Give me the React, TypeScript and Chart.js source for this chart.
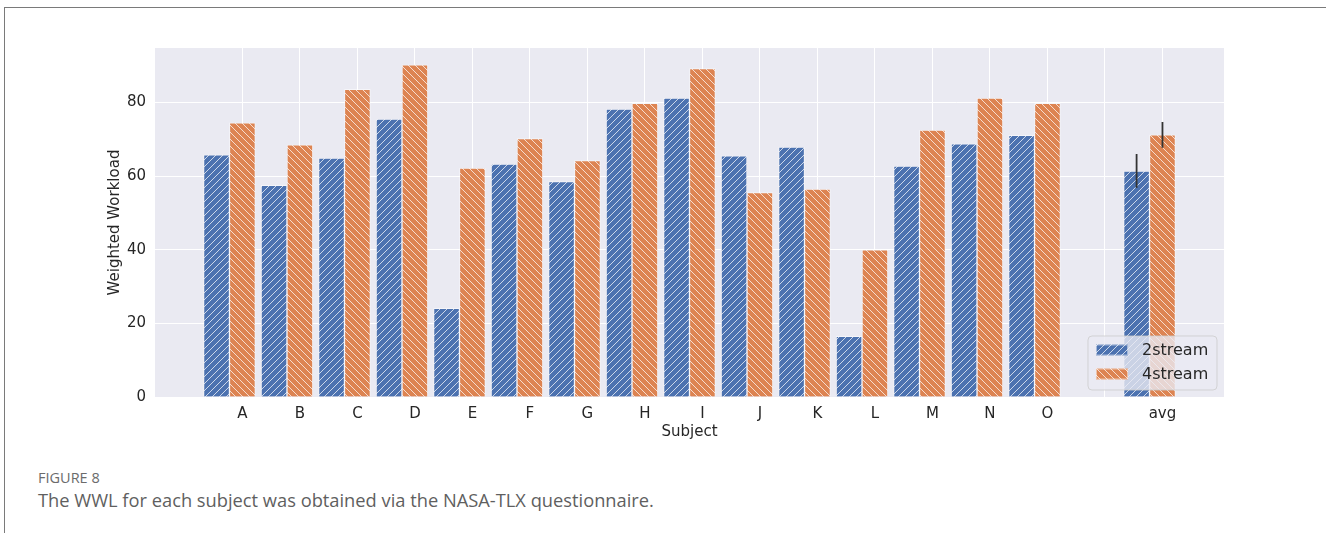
import { useEffect, useRef } from 'react';
import { Chart, registerables } from 'chart.js';

Chart.register(...registerables);

// Weighted workload per subject under the two conditions
const subjects = ['A', 'B', 'C', 'D', 'E', 'F', 'G', 'H', 'I', 'J', 'K', 'L', 'M', 'N', 'O'];
const twoStream = [65.8, 57.5, 64.9, 75.5, 24.1, 63.3, 58.5, 78.2, 81.2, 65.5, 67.9, 16.5, 62.7, 68.8, 71.1];
const fourStream = [74.5, 68.5, 83.6, 90.2, 62.2, 70.2, 64.2, 79.8, 89.2, 55.5, 56.5, 40.0, 72.5, 81.2, 79.8];

// Group averages with their error bars
const avgTwoStream = 61.4;
const avgFourStream = 71.2;
const errTwoStream = 4.6;
const errFourStream = 3.5;

const tickLabels = [...subjects, '', 'avg'];
const yTicks = [0, 20, 40, 60, 80];
const avgPosition = 16;
const barWidth = 0.45;
const xMin = -1.52;
const xMax = 17.07;
const yMax = 94.8;

const BLUE = '#4C72B0';
const ORANGE = '#DD8452';
const PLOT_BG = '#EAEAF2';
const TEXT = '#262626';
const FONT = "'DejaVu Sans', sans-serif";

function makeHatch(color: string, forward: boolean): CanvasPattern | string {
  const size = 7;
  const c = document.createElement('canvas');
  c.width = size;
  c.height = size;
  const ctx = c.getContext('2d');
  if (!ctx) return color;
  ctx.fillStyle = color;
  ctx.fillRect(0, 0, size, size);
  ctx.strokeStyle = 'rgba(255,255,255,0.8)';
  ctx.lineWidth = 0.9;
  ctx.beginPath();
  if (forward) {
    ctx.moveTo(-1, size + 1);
    ctx.lineTo(size + 1, -1);
    ctx.moveTo(-1, 1);
    ctx.lineTo(1, -1);
    ctx.moveTo(size - 1, size + 1);
    ctx.lineTo(size + 1, size - 1);
  } else {
    ctx.moveTo(-1, -1);
    ctx.lineTo(size + 1, size + 1);
    ctx.moveTo(-1, size - 1);
    ctx.lineTo(1, size + 1);
    ctx.moveTo(size - 1, -1);
    ctx.lineTo(size + 1, 1);
  }
  ctx.stroke();
  return ctx.createPattern(c, 'repeat') ?? color;
}

function series(values: number[], avg: number, offset: number) {
  return [
    ...values.map((v, i) => ({ x: i + offset, y: v })),
    { x: avgPosition + offset, y: avg },
  ];
}

const plotBackground = {
  id: 'plotBackground',
  beforeDraw(chart: any) {
    const { ctx, chartArea } = chart;
    ctx.save();
    ctx.fillStyle = PLOT_BG;
    ctx.fillRect(chartArea.left, chartArea.top, chartArea.width, chartArea.height);
    ctx.restore();
  },
};

const errorBars = {
  id: 'errorBars',
  afterDatasetsDraw(chart: any) {
    const { ctx } = chart;
    const y = chart.scales.y;
    const avgs = [avgTwoStream, avgFourStream];
    const errs = [errTwoStream, errFourStream];
    ctx.save();
    ctx.strokeStyle = '#333333';
    ctx.lineWidth = 1.8;
    avgs.forEach((avg, d) => {
      const meta = chart.getDatasetMeta(d);
      const bar = meta.data[meta.data.length - 1];
      ctx.beginPath();
      ctx.moveTo(bar.x, y.getPixelForValue(avg + errs[d]));
      ctx.lineTo(bar.x, y.getPixelForValue(avg - errs[d]));
      ctx.stroke();
    });
    ctx.restore();
  },
};

const legendBox = {
  id: 'legendBox',
  afterDraw(chart: any) {
    const { ctx, chartArea } = chart;
    const w = 129;
    const h = 54;
    const left = chartArea.right - 7 - w;
    const top = chartArea.bottom - 7 - h;
    ctx.save();
    ctx.beginPath();
    ctx.roundRect(left, top, w, h, 4);
    ctx.fillStyle = 'rgba(234,234,242,0.8)';
    ctx.fill();
    ctx.strokeStyle = 'rgba(204,204,204,0.8)';
    ctx.lineWidth = 1;
    ctx.stroke();
    chart.data.datasets.forEach((ds: any, i: number) => {
      const cy = top + 14 + i * 24;
      ctx.fillStyle = ds.backgroundColor;
      ctx.fillRect(left + 8, cy - 5.5, 32, 11);
      ctx.strokeStyle = 'rgba(255,255,255,0.5)';
      ctx.strokeRect(left + 8.5, cy - 5, 31, 10);
      ctx.fillStyle = TEXT;
      ctx.font = `16px ${FONT}`;
      ctx.textBaseline = 'middle';
      ctx.textAlign = 'left';
      ctx.fillText(ds.label, left + 54, cy + 1);
    });
    ctx.restore();
  },
};

function WorkloadChart() {
  const canvasRef = useRef<HTMLCanvasElement | null>(null);

  useEffect(() => {
    const canvas = canvasRef.current;
    if (!canvas) return;
    const chart = new Chart(canvas, {
      type: 'bar',
      data: {
        datasets: [
          {
            label: '2stream',
            data: series(twoStream, avgTwoStream, -barWidth),
            backgroundColor: makeHatch(BLUE, true) as any,
            borderColor: 'rgba(255,255,255,0.5)',
            borderWidth: 1,
            grouped: false,
            barPercentage: 1,
            categoryPercentage: 1,
          },
          {
            label: '4stream',
            data: series(fourStream, avgFourStream, 0),
            backgroundColor: makeHatch(ORANGE, false) as any,
            borderColor: 'rgba(255,255,255,0.5)',
            borderWidth: 1,
            grouped: false,
            barPercentage: 1,
            categoryPercentage: 1,
          },
        ],
      },
      options: {
        animation: false,
        responsive: true,
        maintainAspectRatio: false,
        layout: { padding: { left: 106, top: 48, right: 102, bottom: 0 } },
        plugins: {
          legend: { display: false },
          tooltip: { enabled: false },
        },
        scales: {
          x: {
            type: 'linear',
            min: xMin,
            max: xMax,
            offset: false,
            afterBuildTicks: (scale: any) => {
              scale.ticks = tickLabels.map((_, i) => ({ value: i }));
            },
            afterFit: (scale: any) => {
              scale.height = 44;
            },
            ticks: {
              autoSkip: false,
              maxRotation: 0,
              padding: 8,
              color: TEXT,
              font: { family: FONT, size: 15 },
              callback: (value: any) => tickLabels[Math.round(Number(value))] ?? '',
            },
            grid: { color: '#ffffff', lineWidth: 1, drawTicks: false, offset: false },
            border: { display: false },
            title: {
              display: true,
              text: 'Subject',
              color: TEXT,
              font: { family: FONT, size: 15 },
              padding: 0,
            },
          },
          y: {
            min: 0,
            max: yMax,
            afterBuildTicks: (scale: any) => {
              scale.ticks = yTicks.map((v) => ({ value: v }));
            },
            afterFit: (scale: any) => {
              scale.width = 49;
            },
            ticks: {
              padding: 9,
              color: TEXT,
              font: { family: FONT, size: 15 },
            },
            grid: { color: '#ffffff', lineWidth: 1, drawTicks: false },
            border: { display: false },
            title: {
              display: true,
              text: 'Weighted Workload',
              color: TEXT,
              font: { family: FONT, size: 15 },
              padding: 0,
            },
          },
        },
      },
      plugins: [plotBackground, errorBars, legendBox],
    });
    return () => chart.destroy();
  }, []);

  return (
    <div style={{ position: 'absolute', left: 0, top: 0, width: 1326, height: 441 }}>
      <canvas ref={canvasRef} />
    </div>
  );
}

export default function App() {
  return (
    <div
      style={{
        position: 'absolute',
        left: 0,
        top: 0,
        width: 1326,
        height: 533,
        overflow: 'hidden',
        background: '#ffffff',
      }}
    >
      <div
        style={{
          position: 'absolute',
          left: 4,
          top: 7,
          width: 1400,
          height: 600,
          borderTop: '1.5px solid #7a7a7a',
          borderLeft: '1.5px solid #7a7a7a',
        }}
      />
      <WorkloadChart />
      <div
        style={{
          position: 'absolute',
          left: 38,
          top: 468,
          fontFamily: "'Open Sans', sans-serif",
          color: '#6b6b6b',
          fontSize: 14.5,
          lineHeight: '20px',
        }}
      >
        FIGURE 8
      </div>
      <div
        style={{
          position: 'absolute',
          left: 38,
          top: 488,
          fontFamily: "'Open Sans', sans-serif",
          color: '#5f5f5f',
          fontSize: 18.3,
          lineHeight: '24px',
          whiteSpace: 'nowrap',
        }}
      >
        The WWL for each subject was obtained via the NASA-TLX questionnaire.
      </div>
    </div>
  );
}
